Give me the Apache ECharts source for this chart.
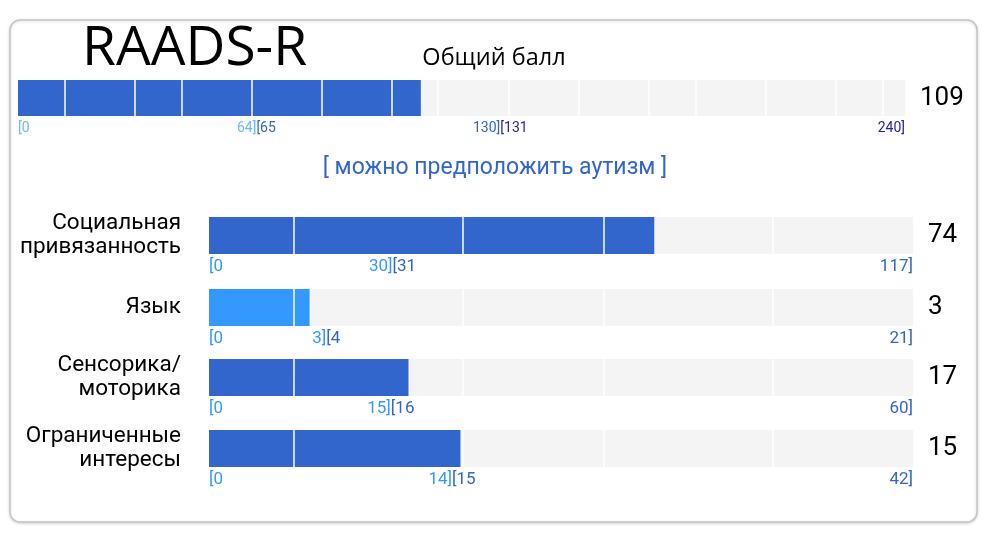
<!DOCTYPE html>
<html>
<head>
<meta charset="utf-8">
<script src="https://cdn.jsdelivr.net/npm/echarts@6/dist/echarts.min.js"></script>
<style>
  html, body { margin: 0; padding: 0; background: #fff; }
  #chart { width: 983px; height: 540px; }
</style>
</head>
<body>
<div id="chart"></div>
<script>
// общий балл
const totalScore = 109;
const totalMax = 240;
const totalBounds = [64, 130];          // конец диапазонов [0-64][65-130][131-240]
const totalVerdict = '[ можно предположить аутизм ]';

// подшкалы
const subNames = ['Социальная\nпривязанность', 'Язык', 'Сенсорика/\nмоторика', 'Ограниченные\nинтересы'];
const subScores = [74, 3, 17, 15];
const subMax = [117, 21, 60, 42];
const subBounds = [[30], [3], [15], [14]];

// оформление
const topColors = ['#66bbff', '#3366cc', '#2222aa'];
const subColors = ['#3399ff', '#3366cc'];
const trackColor = '#f4f4f4';
// белые разделители (доля ширины полосы)
const topSeparators = [46.6, 116.6, 163.6, 233.6, 303.6, 374, 420, 490.6, 561, 631, 678, 748, 818.3, 865].map(p => p / 887.3);
const subSeparators = [84.6, 253.6, 394.6, 563.6].map(p => p / 704);

const chart = echarts.init(document.getElementById('chart'));

function fillColor(score, bounds, colors) {
  let i = 0;
  while (i < bounds.length && score > bounds[i]) i++;
  return colors[i];
}

// подписи диапазонов под полосой: [0 ... b][b+1 ... max]
function rangeAxis(max, bounds, colors, fontSize, margin) {
  const values = [0].concat(bounds.map(b => b + 0.5), [max]);
  const rich = {};
  colors.forEach((c, i) => { rich['c' + i] = { color: c, fontSize, fontFamily: 'Roboto' }; });
  return {
    type: 'value', min: 0, max,
    axisLine: { show: false }, axisTick: { show: false }, splitLine: { show: false },
    axisLabel: {
      customValues: values,
      margin,
      alignMinLabel: 'left',
      alignMaxLabel: 'right',
      formatter: v => {
        if (v === 0) return '{c0|[0}';
        if (v === max) return '{c' + bounds.length + '|' + max + ']}';
        const i = bounds.findIndex(b => b + 0.5 === v);
        return '{c' + i + '|' + bounds[i] + ']}{c' + (i + 1) + '|[' + (bounds[i] + 1) + '}';
      },
      rich
    }
  };
}

const grids = [];
const xAxes = [];
const yAxes = [];
const series = [];

function addBar(opt) {
  const gi = grids.length;
  grids.push({ left: opt.left, width: opt.width, top: opt.top, height: opt.height });
  xAxes.push(Object.assign({ gridIndex: gi }, rangeAxis(opt.max, opt.bounds, opt.labelColors, opt.labelSize, opt.labelMargin)));
  const yLeft = yAxes.length;
  yAxes.push({
    gridIndex: gi, type: 'category', data: [opt.name || ''],
    axisLine: { show: false }, axisTick: { show: false },
    axisLabel: { show: !!opt.name, margin: 28, color: '#000', fontSize: 22.5, lineHeight: 24, fontFamily: 'Roboto', align: 'right' }
  });
  yAxes.push({
    gridIndex: gi, type: 'category', position: 'right', data: [String(opt.score)],
    axisLine: { show: false }, axisTick: { show: false },
    axisLabel: { margin: opt.valueMargin, color: '#000', fontSize: 26, fontFamily: 'Roboto' }
  });
  series.push({
    type: 'bar', xAxisIndex: gi, yAxisIndex: yLeft,
    data: [opt.score], barWidth: '100%',
    itemStyle: { color: fillColor(opt.score, opt.bounds, opt.fillColors) },
    showBackground: true, backgroundStyle: { color: trackColor },
    silent: true,
    markLine: {
      silent: true, symbol: 'none', animation: false,
      label: { show: false },
      lineStyle: { color: '#fff', width: 1.5, type: 'solid' },
      data: opt.separators.map(f => ({ xAxis: f * opt.max }))
    }
  });
}

addBar({
  left: 18, width: 887, top: 80, height: 36,
  max: totalMax, bounds: totalBounds, score: totalScore,
  labelColors: topColors, fillColors: topColors, labelSize: 14, labelMargin: 5,
  valueMargin: 15, separators: topSeparators
});

const subTops = [217, 289, 359, 430];
subNames.forEach((name, i) => {
  addBar({
    left: 209, width: 704, top: subTops[i], height: 37, name,
    max: subMax[i], bounds: subBounds[i], score: subScores[i],
    labelColors: subColors, fillColors: subColors, labelSize: 17, labelMargin: 4,
    valueMargin: 15, separators: subSeparators
  });
});

chart.setOption({
  animation: false,
  backgroundColor: '#fff',
  graphic: [{
    type: 'rect', z: -10, silent: true,
    shape: { x: 10, y: 20, width: 967, height: 502, r: 10 },
    style: { fill: '#fff', stroke: '#c4c4c4', lineWidth: 1.5, shadowBlur: 3, shadowColor: 'rgba(0,0,0,0.15)', shadowOffsetY: 1 }
  }],
  title: [
    { text: 'RAADS-R', left: 77, top: 17, textStyle: { fontFamily: 'Open Sans', fontSize: 55, fontWeight: 'normal', color: '#000' } },
    { text: 'Общий балл', left: 489, top: 41, textAlign: 'center', textStyle: { fontFamily: 'Open Sans', fontSize: 23.5, fontWeight: 'normal', color: '#000' } },
    { text: totalVerdict, left: 490, top: 152, textAlign: 'center', textStyle: { fontFamily: 'Roboto', fontSize: 23, fontWeight: 'normal', color: '#3366cc' } }
  ],
  grid: grids,
  xAxis: xAxes,
  yAxis: yAxes,
  series
});
</script>
</body>
</html>
